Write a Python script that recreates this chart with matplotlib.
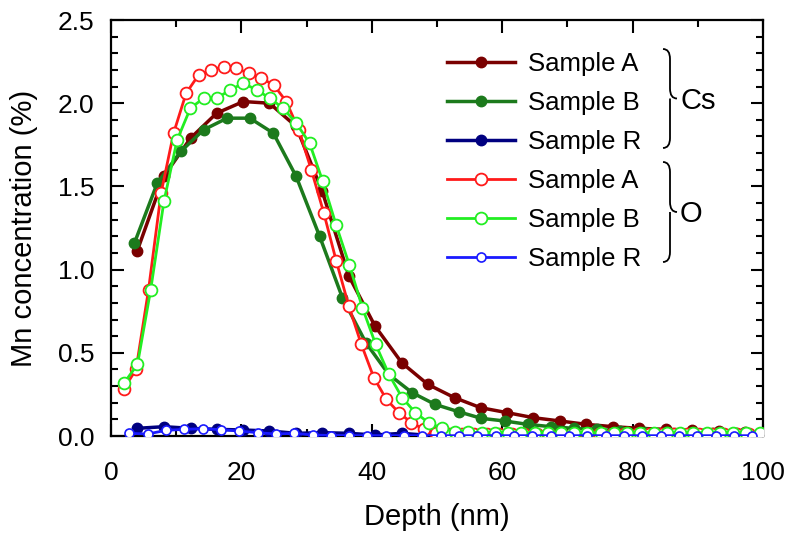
import matplotlib
matplotlib.use('Agg')
from matplotlib import pyplot as plt
from matplotlib.path import Path
from matplotlib.patches import PathPatch
from matplotlib.ticker import MultipleLocator

plt.rcParams['font.family'] = ['Liberation Sans', 'DejaVu Sans']

# Cs profiles
cs_depth = [4.0, 8.1, 12.2, 16.2, 20.3, 24.3, 28.4, 32.4, 36.5, 40.5, 44.6, 48.6,
            52.7, 56.7, 60.8, 64.8, 68.9, 72.9, 77.0, 81.0, 85.1, 89.1, 93.2, 97.2]
cs_a = [1.11, 1.56, 1.79, 1.94, 2.01, 2.00, 1.86, 1.47, 0.96, 0.66, 0.44, 0.31,
        0.23, 0.17, 0.14, 0.11, 0.09, 0.07, 0.056, 0.046, 0.04, 0.036, 0.03, 0.026]
cs_r = [0.046, 0.056, 0.046, 0.04, 0.036, 0.03, 0.016, 0.02, 0.016, 0.006, 0.016, 0.004,
        0.004, 0.003, 0.003, 0.003, 0.003, 0.003, 0.003, 0.003, 0.003, 0.003, 0.003, 0.003]

cs_b_depth = [3.6, 7.1, 10.7, 14.2, 17.8, 21.3, 24.9, 28.4, 32.0, 35.5, 39.1, 42.6,
              46.2, 49.7, 53.3, 56.8, 60.4, 63.9, 67.5, 71.0, 74.6, 78.1, 81.7, 85.2,
              88.8, 92.3, 95.9, 99.4]
cs_b = [1.16, 1.52, 1.71, 1.84, 1.91, 1.91, 1.82, 1.56, 1.20, 0.83, 0.56, 0.37,
        0.26, 0.19, 0.146, 0.106, 0.09, 0.07, 0.056, 0.046, 0.04, 0.03, 0.026, 0.022,
        0.02, 0.018, 0.016, 0.015]

# O profiles
o_a_depth = [1.92, 3.84, 5.76, 7.68, 9.6, 11.52, 13.44, 15.36, 17.28, 19.2, 21.12, 23.04,
             24.96, 26.88, 28.8, 30.72, 32.64, 34.56, 36.48, 38.4, 40.32, 42.24, 44.16, 46.08,
             48.0, 49.92, 51.84, 53.76, 55.68, 57.6, 59.52, 61.44, 63.36, 65.28, 67.2, 69.12,
             71.04, 72.96, 74.88, 76.8, 78.72, 80.64, 82.56, 84.48, 86.4, 88.32, 90.24, 92.16,
             94.08, 96.0, 97.92, 99.84]
o_a = [0.28, 0.40, 0.88, 1.46, 1.82, 2.06, 2.17, 2.20, 2.22, 2.21, 2.18, 2.15,
       2.11, 2.01, 1.84, 1.60, 1.34, 1.05, 0.78, 0.55, 0.35, 0.22, 0.14, 0.08,
       0.04, 0.02, 0.012, 0.01, 0.01, 0.01, 0.01, 0.01, 0.01, 0.01, 0.01, 0.01,
       0.01, 0.01, 0.01, 0.01, 0.01, 0.01, 0.01, 0.01, 0.01, 0.01, 0.01, 0.01,
       0.01, 0.01, 0.01, 0.01]

o_b_depth = [2.03, 4.06, 6.09, 8.12, 10.15, 12.18, 14.21, 16.24, 18.27, 20.3, 22.33, 24.36,
             26.39, 28.42, 30.45, 32.48, 34.51, 36.54, 38.57, 40.6, 42.63, 44.66, 46.69, 48.72,
             50.75, 52.78, 54.81, 56.84, 58.87, 60.9, 62.93, 64.96, 66.99, 69.02, 71.05, 73.08,
             75.11, 77.14, 79.17, 81.2, 83.23, 85.26, 87.29, 89.32, 91.35, 93.38, 95.41, 97.44,
             99.47]
o_b = [0.32, 0.43, 0.88, 1.41, 1.78, 1.97, 2.03, 2.03, 2.08, 2.12, 2.08, 2.03,
       1.97, 1.88, 1.76, 1.53, 1.27, 1.03, 0.77, 0.55, 0.37, 0.23, 0.14, 0.08,
       0.046, 0.026, 0.022, 0.02, 0.02, 0.02, 0.02, 0.02, 0.02, 0.02, 0.02, 0.02,
       0.02, 0.02, 0.02, 0.02, 0.02, 0.02, 0.02, 0.02, 0.02, 0.02, 0.02, 0.02,
       0.02]

o_r_depth = [2.81, 5.62, 8.43, 11.24, 14.05, 16.86, 19.67, 22.48, 25.29, 28.1, 30.91, 33.72,
             36.53, 39.34, 42.15, 44.96, 47.77, 50.58, 53.39, 56.2, 59.01, 61.82, 64.63, 67.44,
             70.25, 73.06, 75.87, 78.68, 81.49, 84.3, 87.11, 89.92, 92.73, 95.54, 98.35]
o_r = [0.016, 0.012, 0.034, 0.04, 0.044, 0.038, 0.03, 0.02, 0.012, 0.016, 0.006, 0.003,
       0.002, 0.002, 0.002, 0.002, 0.002, 0.002, 0.002, 0.002, 0.002, 0.002, 0.002, 0.002,
       0.002, 0.002, 0.002, 0.002, 0.002, 0.002, 0.002, 0.002, 0.002, 0.002, 0.002]

labels = ['Sample A', 'Sample B', 'Sample R', 'Sample A', 'Sample B', 'Sample R']

fig = plt.figure(figsize=(7.88, 5.38), dpi=100)
ax = fig.add_axes([111 / 788, 1 - 436 / 538, 652 / 788, 416 / 538])

h1, = ax.plot(cs_depth, cs_a, color='#7a0000', lw=2.5, marker='o', ms=7.5, zorder=3)
h2, = ax.plot(cs_b_depth, cs_b, color='#1c7a1c', lw=2.5, marker='o', ms=7.5, zorder=3)
h3, = ax.plot(cs_depth, cs_r, color='#000080', lw=2.5, marker='o', ms=7.5, zorder=3)
h4, = ax.plot(o_a_depth, o_a, color='#ff1a1a', lw=2.0, marker='o', ms=8.5,
              mfc='white', mec='#ff1a1a', mew=1.3, zorder=4)
h5, = ax.plot(o_b_depth, o_b, color='#22ee22', lw=2.0, marker='o', ms=8.5,
              mfc='white', mec='#22ee22', mew=1.3, zorder=4)
h6, = ax.plot(o_r_depth, o_r, color='#1a1aff', lw=2.0, marker='o', ms=6.5,
              mfc='white', mec='#1a1aff', mew=1.2, zorder=5)

ax.set_xlim(0, 100)
ax.set_ylim(0, 2.5)
ax.xaxis.set_major_locator(MultipleLocator(20))
ax.xaxis.set_minor_locator(MultipleLocator(10))
ax.yaxis.set_major_locator(MultipleLocator(0.5))
ax.yaxis.set_minor_locator(MultipleLocator(0.1))
ax.yaxis.set_major_formatter(matplotlib.ticker.FormatStrFormatter('%.1f'))

for s in ax.spines.values():
    s.set_linewidth(1.6)
ax.tick_params(which='both', direction='in', top=True, right=True, width=1.5)
ax.tick_params(which='major', length=9, labelsize=19)
ax.tick_params(which='minor', length=5)
ax.tick_params(axis='x', which='major', pad=18)
ax.tick_params(axis='y', which='major', pad=12)

ax.set_xlabel('Depth (nm)', fontsize=21)
ax.set_ylabel('Mn concentration (%)', fontsize=21)
ax.xaxis.set_label_coords(0.5, (436 - 503) / 416)
ax.yaxis.set_label_coords((38 - 111) / 652, 0.5)

leg = ax.legend([h1, h2, h3, h4, h5, h6], labels, loc='upper left',
                bbox_to_anchor=((447 - 111) / 652, (436 - 52) / 416),
                frameon=False, fontsize=18.5, handlelength=2.65,
                handletextpad=0.5, labelspacing=0.58, borderpad=0, borderaxespad=0)


def brace(x0, ytop, ybot, w):
    # curly brace in pixel coords of the reference, drawn in axes fraction
    ym = (ytop + ybot) / 2
    r = 10
    pts = [(x0, ytop), (x0 + w / 2, ytop), (x0 + w / 2, ytop + r),
           (x0 + w / 2, ym - r), (x0 + w / 2, ym), (x0 + w, ym),
           (x0 + w / 2, ym), (x0 + w / 2, ym + r),
           (x0 + w / 2, ybot - r), (x0 + w / 2, ybot), (x0, ybot)]
    codes = [Path.MOVETO, Path.CURVE3, Path.CURVE3, Path.LINETO, Path.CURVE3, Path.CURVE3,
             Path.MOVETO, Path.CURVE3, Path.LINETO, Path.CURVE3, Path.CURVE3]
    verts = [((x - 111) / 652, (436 - y) / 416) for x, y in pts]
    ax.add_patch(PathPatch(Path(verts, codes), fc='none', ec='black', lw=1.3,
                           transform=ax.transAxes, clip_on=False))


brace(663, 49, 148, 14)
brace(663, 162, 262, 14)
ax.text((680 - 111) / 652, (436 - 101) / 416, 'Cs', transform=ax.transAxes,
        fontsize=21, va='center', ha='left')
ax.text((680 - 111) / 652, (436 - 214) / 416, 'O', transform=ax.transAxes,
        fontsize=21, va='center', ha='left')

fig.savefig('out.png', dpi=100)
